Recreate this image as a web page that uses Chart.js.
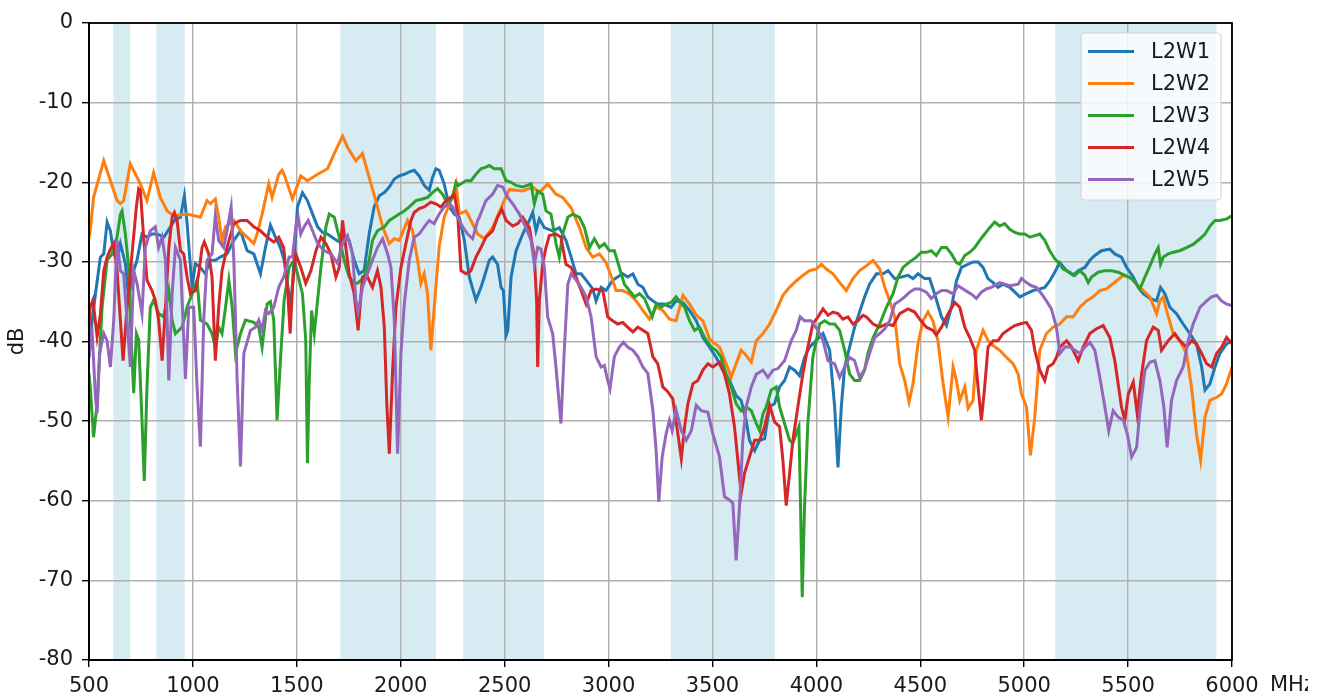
<!DOCTYPE html>
<html>
<head>
<meta charset="utf-8">
<script src="https://cdn.jsdelivr.net/npm/chart.js@4.4.1/dist/chart.umd.min.js"></script>
<style>
  html, body { margin: 0; padding: 0; background: #fff; }
  canvas { display: block; }
</style>
</head>
<body>
<canvas id="chart" width="1327" height="696"></canvas>
<script>
// frequency bands (MHz), shaded behind the curves
const bandStart = [617, 824, 1710, 2300, 3300, 5150];
const bandEnd   = [698, 960, 2170, 2690, 3800, 5925];

const seriesNames = ['L2W1', 'L2W2', 'L2W3', 'L2W4', 'L2W5'];
const seriesColors = ['#1f77b4', '#ff7f0e', '#2ca02c', '#d62728', '#9467bd'];

// [MHz, dB]
const l2w1 = [[500,-42],[506,-39.4],[531,-34.0],[555,-29.4],[571,-29.0],[587,-25.0],[603,-26.1],[619,-29.0],[635,-29.8],[651,-27.7],[675,-30.2],[691,-34.4],[715,-31.1],[731,-29.8],[755,-26.5],[779,-26.9],[803,-26.5],[827,-26.5],[860,-26.9],[892,-25.6],[916,-24.6],[940,-24.4],[959,-21.7],[972,-25.2],[996,-33.2],[1012,-30.2],[1036,-30.7],[1060,-31.5],[1084,-29.8],[1108,-29.8],[1132,-29.4],[1164,-29.0],[1197,-27.3],[1229,-26.1],[1261,-28.6],[1293,-29.0],[1325,-31.5],[1349,-28.2],[1373,-25.4],[1397,-26.9],[1421,-28.2],[1439,-29.8],[1471,-35.7],[1487,-29.8],[1503,-23.1],[1527,-21.3],[1551,-22.3],[1576,-24.0],[1600,-25.6],[1624,-26.3],[1648,-26.5],[1680,-27.1],[1704,-27.5],[1728,-26.9],[1752,-27.3],[1776,-29.8],[1800,-31.5],[1824,-31.1],[1848,-26.5],[1872,-23.1],[1897,-21.7],[1921,-21.3],[1945,-20.6],[1969,-19.6],[1993,-19.2],[2017,-19.0],[2041,-18.7],[2065,-18.5],[2089,-19.2],[2113,-20.4],[2137,-21.0],[2153,-19.4],[2169,-18.3],[2185,-18.5],[2209,-20.2],[2234,-23.1],[2258,-24.0],[2282,-24.4],[2306,-27.3],[2330,-31.9],[2362,-34.8],[2386,-33.2],[2402,-31.9],[2426,-29.8],[2442,-29.4],[2466,-30.3],[2483,-33.2],[2494,-33.6],[2507,-39.2],[2515,-38.6],[2531,-31.9],[2555,-28.6],[2587,-26.5],[2619,-24.8],[2635,-23.8],[2651,-26.1],[2667,-24.6],[2691,-25.7],[2731,-26.1],[2763,-25.7],[2795,-27.3],[2820,-29.4],[2844,-31.5],[2868,-31.5],[2892,-32.3],[2924,-33.4],[2940,-34.9],[2964,-33.2],[2988,-33.6],[3020,-32.3],[3044,-31.9],[3068,-31.5],[3092,-31.9],[3117,-31.5],[3141,-32.8],[3165,-33.2],[3189,-34.4],[3213,-34.9],[3237,-35.3],[3269,-35.3],[3301,-35.7],[3325,-34.9],[3358,-35.1],[3390,-36.1],[3422,-37.4],[3454,-39.5],[3486,-40.7],[3518,-42.0],[3550,-43.6],[3582,-44.9],[3614,-46.8],[3638,-47.4],[3662,-49.9],[3678,-52.4],[3703,-53.7],[3727,-52.4],[3751,-52.2],[3775,-48.2],[3799,-47.8],[3823,-45.7],[3847,-44.9],[3871,-43.2],[3895,-43.6],[3919,-44.3],[3943,-42.0],[3967,-40.7],[3999,-39.9],[4032,-39.0],[4064,-41.1],[4088,-48.2],[4104,-55.8],[4120,-48.2],[4136,-43.2],[4160,-40.7],[4184,-38.2],[4208,-36.3],[4232,-34.4],[4256,-32.8],[4289,-31.5],[4321,-31.5],[4345,-31.1],[4377,-32.1],[4409,-31.9],[4441,-31.7],[4465,-32.1],[4489,-31.5],[4521,-32.1],[4545,-32.1],[4569,-34.0],[4602,-36.9],[4626,-38.0],[4650,-35.7],[4674,-32.4],[4698,-30.7],[4730,-30.3],[4754,-30.0],[4778,-30.0],[4802,-30.7],[4826,-32.1],[4850,-32.6],[4874,-33.2],[4898,-32.8],[4931,-33.2],[4955,-33.8],[4979,-34.4],[5011,-34.0],[5043,-33.6],[5075,-33.4],[5099,-33.2],[5123,-32.4],[5147,-31.3],[5171,-30.1],[5204,-31.1],[5236,-31.7],[5260,-31.1],[5292,-30.7],[5316,-29.8],[5340,-29.2],[5372,-28.6],[5412,-28.4],[5436,-29.0],[5468,-29.4],[5493,-30.7],[5525,-31.9],[5549,-33.2],[5573,-34.0],[5605,-34.6],[5637,-34.9],[5656,-33.2],[5677,-34.0],[5701,-35.7],[5733,-36.5],[5765,-37.8],[5797,-39.0],[5829,-40.3],[5854,-43.2],[5870,-46.1],[5894,-45.3],[5918,-43.2],[5942,-41.5],[5974,-40.3],[6000,-39.9]];

const l2w2 = [[500,-27],[506,-26.1],[522,-21.9],[571,-17.3],[635,-22.3],[651,-22.7],[667,-22.3],[699,-17.7],[747,-20.2],[779,-22.3],[811,-18.8],[843,-21.9],[876,-23.6],[908,-24.2],[972,-24.0],[1036,-24.4],[1068,-22.3],[1084,-22.7],[1108,-22.1],[1124,-24.4],[1140,-27.3],[1157,-25.6],[1197,-24.8],[1229,-26.1],[1261,-26.9],[1293,-27.7],[1309,-26.5],[1333,-24.0],[1365,-20.2],[1381,-21.9],[1413,-19.0],[1429,-18.5],[1439,-19.0],[1479,-22.1],[1519,-19.2],[1551,-19.8],[1600,-19.0],[1648,-18.3],[1680,-16.4],[1720,-14.2],[1744,-15.6],[1784,-17.3],[1816,-16.4],[1848,-19.4],[1880,-22.3],[1913,-25.6],[1945,-27.7],[1969,-27.1],[1993,-27.3],[2033,-24.8],[2057,-26.1],[2081,-29.8],[2097,-32.7],[2113,-31.5],[2129,-34.0],[2145,-41.1],[2169,-33.2],[2185,-28.1],[2209,-24.4],[2242,-22.3],[2266,-20.2],[2282,-24.0],[2314,-23.6],[2338,-24.8],[2370,-26.5],[2402,-27.1],[2442,-25.7],[2491,-22.7],[2523,-20.9],[2587,-21.1],[2635,-20.6],[2667,-21.3],[2707,-20.2],[2747,-21.5],[2779,-21.9],[2820,-23.2],[2860,-25.7],[2892,-28.2],[2924,-29.4],[2956,-29.0],[2988,-30.1],[3020,-32.3],[3036,-33.6],[3068,-33.6],[3100,-34.0],[3133,-34.9],[3165,-36.1],[3197,-37.2],[3229,-35.7],[3261,-36.1],[3293,-37.2],[3325,-37.4],[3358,-34.2],[3390,-35.3],[3422,-36.7],[3454,-37.4],[3486,-39.7],[3534,-40.7],[3566,-42.8],[3590,-44.5],[3614,-42.8],[3638,-41.1],[3654,-41.5],[3687,-42.6],[3711,-39.9],[3743,-39.0],[3775,-37.8],[3807,-36.1],[3839,-34.2],[3871,-33.2],[3903,-32.4],[3935,-31.7],[3967,-31.1],[3999,-30.9],[4024,-30.3],[4048,-30.9],[4080,-31.5],[4112,-32.6],[4144,-33.6],[4176,-32.1],[4208,-31.1],[4240,-30.5],[4273,-29.8],[4305,-30.9],[4329,-33.2],[4353,-34.9],[4377,-36.9],[4401,-42.8],[4425,-44.9],[4446,-47.6],[4465,-45.3],[4489,-40.3],[4513,-37.4],[4537,-36.3],[4561,-37.4],[4585,-39.9],[4610,-45.3],[4634,-49.5],[4658,-43.2],[4674,-44.9],[4690,-47.4],[4714,-45.7],[4730,-48.4],[4754,-47.4],[4770,-41.1],[4802,-38.6],[4826,-39.9],[4850,-40.5],[4882,-41.1],[4915,-42.0],[4947,-42.8],[4971,-44.1],[4987,-46.6],[5011,-48.2],[5030,-54.3],[5051,-49.5],[5075,-41.1],[5107,-39.0],[5139,-38.2],[5171,-37.8],[5204,-36.9],[5236,-36.9],[5268,-35.7],[5300,-34.9],[5332,-34.4],[5364,-33.6],[5396,-33.4],[5444,-32.4],[5477,-31.7],[5509,-31.9],[5541,-32.8],[5573,-33.6],[5605,-34.4],[5637,-36.5],[5653,-34.9],[5669,-34.4],[5685,-36.1],[5717,-39.0],[5749,-39.9],[5781,-41.5],[5805,-45.7],[5829,-51.6],[5849,-54.9],[5870,-49.5],[5894,-47.4],[5926,-47.0],[5950,-46.6],[5974,-45.3],[6000,-43.2]];

const l2w3 = [[500,-44],[506,-45.7],[522,-52.0],[539,-47.8],[563,-35.7],[587,-29.8],[611,-29.0],[635,-26.9],[651,-24.0],[659,-23.6],[675,-26.5],[691,-30.7],[699,-37.3],[715,-46.5],[728,-39.0],[739,-39.8],[755,-49.9],[766,-57.5],[779,-45.7],[795,-35.7],[811,-34.8],[835,-36.5],[860,-36.9],[884,-33.6],[900,-37.3],[916,-39.0],[948,-38.2],[972,-35.7],[996,-34.0],[1020,-32.3],[1036,-37.3],[1068,-37.8],[1092,-39.0],[1108,-40.7],[1124,-38.2],[1140,-39.0],[1157,-35.7],[1173,-32.3],[1189,-35.7],[1205,-41.5],[1229,-39.0],[1253,-37.3],[1293,-37.6],[1317,-38.2],[1333,-40.7],[1357,-35.3],[1373,-35.0],[1389,-37.3],[1405,-49.9],[1421,-42.4],[1439,-34.8],[1463,-30.7],[1487,-29.8],[1511,-32.3],[1527,-34.0],[1543,-39.8],[1551,-55.3],[1559,-45.7],[1571,-36.1],[1584,-39.0],[1600,-34.8],[1616,-30.7],[1640,-25.6],[1656,-24.0],[1680,-24.4],[1704,-26.9],[1728,-29.8],[1752,-31.9],[1776,-32.7],[1792,-32.7],[1824,-31.9],[1848,-29.8],[1864,-27.3],[1888,-26.1],[1921,-25.6],[1945,-24.8],[1969,-24.4],[1993,-24.0],[2017,-23.6],[2041,-23.1],[2073,-22.3],[2105,-22.1],[2129,-21.9],[2153,-21.3],[2177,-20.8],[2201,-21.5],[2226,-22.7],[2250,-21.9],[2266,-20.0],[2277,-20.4],[2290,-20.2],[2314,-19.8],[2338,-19.8],[2362,-19.0],[2386,-18.3],[2410,-18.1],[2426,-17.9],[2450,-18.3],[2483,-18.3],[2507,-19.8],[2531,-20.0],[2555,-20.4],[2587,-20.6],[2627,-20.2],[2643,-22.7],[2659,-21.1],[2683,-21.5],[2699,-23.6],[2723,-24.0],[2747,-27.7],[2763,-29.4],[2779,-26.5],[2804,-24.4],[2828,-24.0],[2860,-24.4],[2884,-25.7],[2908,-28.2],[2932,-27.1],[2956,-28.2],[2980,-27.7],[3004,-28.6],[3028,-28.6],[3052,-30.7],[3076,-32.8],[3100,-33.6],[3125,-34.4],[3149,-34.0],[3173,-34.6],[3197,-36.1],[3210,-36.9],[3229,-35.3],[3253,-35.7],[3277,-35.3],[3301,-35.1],[3325,-34.4],[3366,-35.7],[3390,-37.4],[3414,-38.6],[3438,-38.2],[3462,-39.5],[3494,-40.7],[3518,-41.1],[3542,-42.0],[3566,-44.1],[3590,-45.7],[3614,-47.8],[3638,-48.7],[3662,-48.2],[3687,-48.7],[3711,-50.3],[3727,-51.2],[3743,-49.1],[3759,-48.2],[3783,-46.1],[3807,-45.7],[3823,-48.2],[3847,-50.3],[3871,-52.4],[3887,-52.8],[3903,-51.6],[3916,-50.7],[3924,-60.8],[3932,-72.1],[3943,-60.8],[3959,-50.3],[3983,-42.0],[4016,-37.8],[4040,-37.4],[4064,-37.8],[4088,-37.8],[4112,-38.6],[4136,-41.1],[4160,-44.1],[4184,-44.9],[4208,-44.9],[4232,-43.6],[4248,-41.5],[4273,-39.5],[4305,-37.8],[4337,-35.7],[4369,-34.0],[4393,-31.9],[4417,-30.7],[4449,-30.0],[4481,-29.4],[4505,-28.8],[4529,-28.8],[4553,-28.6],[4577,-29.2],[4602,-28.2],[4626,-28.2],[4650,-29.0],[4674,-30.1],[4690,-30.3],[4714,-29.2],[4738,-28.8],[4762,-28.2],[4786,-27.3],[4810,-26.5],[4834,-25.7],[4858,-25.0],[4882,-25.5],[4906,-25.2],[4931,-25.9],[4955,-26.3],[4979,-26.5],[5003,-26.5],[5027,-26.9],[5051,-26.7],[5075,-26.5],[5099,-27.3],[5123,-28.6],[5147,-29.6],[5171,-30.3],[5188,-30.9],[5220,-31.3],[5244,-31.7],[5268,-31.1],[5292,-31.7],[5308,-32.6],[5324,-31.9],[5356,-31.3],[5388,-31.1],[5420,-31.1],[5452,-31.3],[5484,-31.7],[5517,-32.1],[5541,-32.8],[5557,-33.4],[5581,-31.9],[5605,-30.5],[5629,-29.0],[5645,-28.2],[5656,-30.3],[5669,-29.4],[5693,-29.0],[5717,-28.8],[5749,-28.6],[5781,-28.2],[5813,-27.8],[5846,-27.1],[5870,-26.5],[5894,-25.5],[5918,-24.8],[5942,-24.8],[5974,-24.6],[6000,-24.2]];

const l2w4 = [[500,-38],[506,-35.7],[519,-34.8],[539,-39.4],[555,-36.5],[571,-31.1],[587,-29.4],[603,-28.4],[619,-27.7],[635,-31.1],[651,-37.3],[664,-42.4],[683,-35.7],[707,-29.0],[728,-23.1],[739,-20.8],[747,-21.0],[763,-26.9],[779,-32.3],[803,-33.6],[819,-34.8],[835,-37.3],[852,-42.4],[868,-35.7],[884,-28.2],[900,-24.4],[911,-23.8],[924,-24.8],[940,-28.6],[956,-29.0],[972,-31.9],[988,-34.0],[1012,-33.6],[1028,-31.5],[1044,-28.2],[1055,-27.5],[1076,-29.0],[1092,-31.9],[1108,-42.4],[1124,-35.7],[1140,-31.1],[1164,-28.2],[1197,-25.2],[1229,-24.8],[1261,-24.8],[1293,-25.6],[1325,-26.1],[1357,-26.9],[1389,-27.5],[1413,-26.9],[1437,-28.2],[1455,-33.2],[1468,-39.0],[1479,-33.2],[1495,-29.0],[1519,-30.7],[1543,-32.7],[1568,-31.1],[1592,-28.6],[1616,-26.9],[1640,-27.7],[1664,-29.0],[1688,-31.9],[1704,-30.7],[1720,-24.8],[1736,-28.2],[1752,-31.5],[1776,-34.0],[1795,-38.6],[1816,-31.9],[1840,-31.9],[1864,-33.2],[1888,-31.1],[1905,-33.2],[1921,-38.2],[1933,-47.8],[1945,-54.1],[1961,-43.6],[1977,-35.7],[2001,-30.7],[2025,-27.7],[2049,-24.8],[2065,-23.8],[2089,-23.3],[2113,-23.1],[2145,-22.5],[2169,-22.7],[2193,-23.1],[2218,-22.3],[2242,-21.9],[2258,-21.5],[2274,-24.0],[2290,-31.1],[2314,-31.5],[2338,-31.1],[2362,-29.4],[2386,-28.2],[2410,-26.9],[2442,-26.1],[2466,-24.4],[2487,-23.4],[2507,-24.8],[2539,-25.5],[2563,-25.2],[2587,-24.4],[2619,-25.7],[2643,-29.4],[2654,-34.9],[2659,-43.2],[2667,-34.9],[2683,-30.3],[2699,-28.2],[2715,-26.7],[2747,-26.5],[2771,-26.9],[2795,-30.3],[2820,-30.7],[2844,-31.9],[2868,-33.6],[2892,-35.3],[2916,-33.6],[2940,-33.4],[2972,-33.6],[2996,-36.9],[3020,-37.4],[3044,-37.8],[3068,-37.6],[3092,-38.2],[3117,-38.8],[3141,-38.2],[3165,-38.6],[3189,-39.0],[3213,-41.9],[3237,-42.8],[3261,-45.7],[3285,-46.3],[3309,-47.2],[3333,-51.5],[3350,-54.7],[3366,-50.7],[3382,-47.8],[3406,-45.3],[3430,-44.9],[3454,-43.6],[3478,-42.8],[3502,-43.2],[3534,-42.6],[3558,-44.1],[3582,-46.6],[3606,-50.7],[3622,-54.9],[3638,-59.1],[3654,-56.6],[3678,-54.5],[3703,-52.4],[3727,-52.4],[3751,-50.7],[3775,-48.0],[3799,-50.1],[3823,-50.7],[3839,-54.9],[3855,-60.6],[3871,-56.6],[3887,-52.4],[3911,-48.2],[3935,-44.1],[3959,-40.7],[3983,-37.8],[4008,-36.9],[4032,-35.9],[4056,-36.7],[4080,-36.3],[4104,-36.5],[4128,-37.2],[4152,-36.9],[4176,-37.8],[4200,-37.4],[4224,-36.7],[4240,-36.9],[4273,-37.8],[4305,-38.2],[4337,-37.8],[4369,-38.0],[4401,-36.5],[4441,-35.9],[4473,-36.3],[4497,-37.2],[4529,-38.2],[4561,-38.6],[4577,-39.2],[4602,-38.2],[4634,-36.5],[4666,-35.1],[4690,-35.7],[4714,-38.2],[4738,-39.5],[4762,-41.1],[4778,-45.7],[4794,-49.9],[4810,-45.7],[4826,-40.7],[4850,-39.9],[4874,-39.9],[4898,-39.0],[4931,-38.4],[4955,-38.0],[4979,-37.8],[5011,-37.6],[5035,-38.6],[5051,-41.1],[5075,-43.6],[5099,-44.9],[5115,-43.2],[5139,-42.8],[5155,-42.0],[5172,-40.7],[5204,-39.9],[5228,-40.7],[5260,-42.4],[5284,-40.7],[5316,-39.0],[5348,-38.4],[5380,-38.0],[5412,-39.5],[5436,-42.4],[5468,-48.2],[5484,-49.9],[5501,-46.6],[5525,-45.1],[5544,-49.1],[5565,-44.1],[5589,-39.9],[5621,-38.2],[5645,-38.6],[5661,-41.1],[5693,-39.9],[5725,-39.0],[5749,-39.9],[5781,-40.7],[5805,-39.9],[5829,-40.3],[5854,-41.5],[5878,-42.8],[5902,-43.2],[5926,-41.5],[5950,-40.7],[5974,-39.5],[6000,-40.3]];

const l2w5 = [[500,-42],[514,-38.2],[531,-47.0],[539,-49.0],[551,-41.5],[571,-39.0],[587,-39.9],[603,-43.2],[619,-37.3],[635,-27.3],[651,-31.1],[667,-31.5],[683,-37.3],[699,-43.2],[715,-31.1],[731,-32.7],[755,-36.5],[771,-28.2],[795,-26.1],[819,-25.6],[835,-28.2],[852,-26.9],[868,-29.8],[884,-44.9],[900,-34.0],[916,-28.2],[940,-29.8],[964,-44.7],[980,-35.7],[1004,-35.7],[1020,-45.7],[1036,-53.2],[1052,-37.3],[1068,-29.8],[1092,-29.0],[1108,-24.2],[1124,-27.3],[1148,-28.2],[1164,-26.1],[1184,-23.1],[1197,-29.8],[1213,-44.9],[1229,-55.7],[1245,-41.5],[1277,-38.6],[1301,-38.2],[1317,-37.3],[1333,-38.6],[1349,-36.1],[1365,-36.5],[1389,-35.7],[1413,-33.2],[1437,-31.9],[1463,-29.4],[1479,-29.4],[1495,-25.6],[1507,-24.4],[1519,-26.5],[1535,-25.6],[1555,-24.8],[1576,-26.1],[1600,-27.7],[1632,-28.6],[1664,-29.0],[1696,-30.2],[1720,-27.7],[1744,-26.7],[1768,-29.0],[1784,-34.8],[1795,-36.3],[1816,-33.2],[1840,-31.5],[1864,-29.8],[1888,-28.2],[1913,-27.1],[1937,-29.0],[1953,-30.7],[1969,-37.3],[1985,-54.1],[2001,-41.5],[2017,-35.3],[2041,-29.8],[2065,-26.9],[2089,-26.5],[2113,-25.6],[2137,-24.8],[2161,-25.2],[2185,-24.0],[2209,-23.1],[2234,-22.7],[2250,-23.1],[2274,-24.4],[2298,-25.6],[2322,-26.5],[2346,-27.1],[2370,-24.8],[2378,-24.4],[2410,-22.3],[2442,-21.5],[2466,-20.4],[2491,-20.6],[2515,-21.9],[2539,-22.7],[2571,-24.0],[2603,-25.7],[2627,-27.3],[2643,-30.3],[2659,-28.2],[2675,-28.4],[2691,-30.7],[2707,-36.9],[2731,-39.0],[2747,-43.2],[2771,-50.3],[2787,-41.1],[2804,-32.8],[2820,-31.5],[2844,-32.3],[2868,-33.2],[2892,-34.4],[2916,-36.9],[2940,-41.9],[2964,-43.2],[2980,-43.0],[2996,-44.9],[3007,-45.9],[3028,-41.9],[3052,-40.7],[3072,-40.1],[3092,-40.7],[3117,-41.1],[3141,-41.9],[3165,-43.2],[3189,-44.0],[3213,-48.6],[3229,-53.7],[3242,-60.1],[3258,-54.5],[3277,-51.6],[3293,-49.9],[3306,-51.2],[3325,-48.6],[3350,-51.2],[3374,-52.4],[3398,-51.2],[3422,-48.0],[3446,-48.7],[3478,-48.9],[3502,-51.6],[3534,-54.5],[3558,-59.5],[3582,-59.9],[3598,-60.3],[3614,-67.5],[3630,-60.8],[3646,-52.4],[3662,-48.2],[3687,-45.7],[3711,-44.1],[3743,-43.6],[3767,-44.5],[3791,-43.6],[3815,-43.4],[3847,-42.4],[3879,-39.9],[3903,-38.6],[3922,-36.9],[3943,-37.4],[3975,-37.4],[4008,-38.6],[4032,-39.9],[4056,-42.4],[4088,-42.8],[4112,-44.5],[4136,-43.2],[4160,-42.0],[4184,-42.4],[4208,-44.5],[4232,-43.5],[4256,-41.5],[4281,-39.5],[4305,-39.0],[4329,-38.4],[4353,-37.4],[4377,-35.3],[4401,-34.9],[4425,-34.4],[4449,-33.8],[4473,-33.4],[4497,-33.4],[4529,-33.8],[4553,-34.6],[4577,-34.0],[4602,-33.6],[4626,-33.6],[4658,-34.0],[4682,-33.0],[4706,-33.4],[4730,-33.8],[4754,-34.2],[4770,-34.6],[4794,-33.8],[4818,-33.4],[4842,-33.2],[4882,-32.6],[4906,-32.8],[4931,-33.0],[4971,-32.8],[4987,-32.1],[5011,-32.6],[5035,-33.0],[5059,-33.2],[5083,-34.0],[5107,-34.9],[5131,-35.9],[5155,-38.2],[5172,-41.5],[5196,-40.7],[5220,-40.7],[5244,-41.1],[5268,-41.5],[5292,-40.7],[5316,-40.1],[5340,-41.1],[5364,-44.5],[5388,-48.2],[5407,-51.2],[5428,-48.7],[5452,-49.5],[5477,-49.9],[5496,-51.6],[5517,-54.5],[5541,-53.3],[5557,-48.7],[5581,-43.6],[5605,-42.6],[5629,-42.4],[5653,-44.9],[5672,-48.2],[5688,-53.3],[5709,-47.4],[5733,-44.9],[5765,-43.2],[5789,-39.9],[5813,-37.8],[5846,-35.7],[5878,-34.9],[5902,-34.4],[5926,-34.2],[5950,-34.9],[5974,-35.3],[6000,-35.5]];

const seriesData = [l2w1, l2w2, l2w3, l2w4, l2w5];

const FONT = "'DejaVu Sans', 'Liberation Sans', sans-serif";
const TEXT = '#1a1a1a';
Chart.defaults.font.family = FONT;
Chart.defaults.font.size = 21;
Chart.defaults.color = TEXT;

// shaded bands under the grid
const bandsPlugin = {
    id: 'bands',
    beforeDraw(chart) {
        const { ctx, chartArea, scales } = chart;
        ctx.save();
        ctx.fillStyle = 'rgba(173, 216, 230, 0.5)';
        for (let i = 0; i < bandStart.length; i++) {
            const x0 = scales.x.getPixelForValue(bandStart[i]);
            const x1 = scales.x.getPixelForValue(bandEnd[i]);
            ctx.fillRect(x0, chartArea.top, x1 - x0, chartArea.bottom - chartArea.top);
        }
        ctx.restore();
    }
};

// box, legend and the "MHz" label
const framePlugin = {
    id: 'frame',
    afterDraw(chart) {
        const { ctx, chartArea } = chart;
        ctx.save();
        ctx.strokeStyle = '#000';
        ctx.lineWidth = 1.8;
        ctx.strokeRect(chartArea.left, chartArea.top,
            chartArea.right - chartArea.left, chartArea.bottom - chartArea.top);

        // legend
        const lx = 1081, ly = 33, lw = 140, lh = 167;
        ctx.beginPath();
        ctx.roundRect(lx, ly, lw, lh, 4);
        ctx.fillStyle = 'rgba(255,255,255,0.8)';
        ctx.fill();
        ctx.strokeStyle = '#d6d6d6';
        ctx.lineWidth = 1.2;
        ctx.stroke();
        ctx.font = '21px ' + FONT;
        ctx.textBaseline = 'middle';
        ctx.textAlign = 'left';
        seriesNames.forEach((name, i) => {
            const y = 51.5 + i * 32;
            ctx.strokeStyle = seriesColors[i];
            ctx.lineWidth = 3;
            ctx.beginPath();
            ctx.moveTo(1088, y);
            ctx.lineTo(1134, y);
            ctx.stroke();
            ctx.fillStyle = TEXT;
            ctx.fillText(name, 1151, y + 1);
        });

        // x axis unit, cut at the right like the original
        ctx.beginPath();
        ctx.rect(0, 0, 1308, chart.height);
        ctx.clip();
        ctx.fillStyle = TEXT;
        ctx.textBaseline = 'top';
        ctx.fillText('MHz', 1270, chartArea.bottom + 15);
        ctx.restore();
    }
};

new Chart(document.getElementById('chart'), {
    type: 'line',
    data: {
        datasets: seriesData.map((d, i) => ({
            label: seriesNames[i],
            data: d.map(p => ({ x: p[0], y: p[1] })),
            borderColor: seriesColors[i],
            backgroundColor: seriesColors[i],
            borderWidth: 3,
            pointRadius: 0,
            tension: 0,
            fill: false,
            order: seriesData.length - i
        }))
    },
    options: {
        responsive: false,
        animation: false,
        layout: { padding: { top: 23, right: 95, left: 0, bottom: 0 } },
        plugins: {
            legend: { display: false },
            tooltip: { enabled: false }
        },
        scales: {
            x: {
                type: 'linear',
                min: 500,
                max: 6000,
                afterFit: s => { s.height = 36; },
                ticks: {
                    stepSize: 500, maxRotation: 0, autoSkip: false, padding: 7,
                    callback: v => String(v)
                },
                grid: { color: '#b0b0b0', lineWidth: 1.4, tickColor: '#000', tickLength: 7 },
                border: { display: true, color: '#000', width: 1.8 }
            },
            y: {
                min: -80,
                max: 0,
                afterFit: s => { s.width = 89; },
                ticks: { stepSize: 10, padding: 9, callback: v => String(v) },
                grid: { color: '#b0b0b0', lineWidth: 1.4, tickColor: '#000', tickLength: 7 },
                border: { display: true, color: '#000', width: 1.8 },
                title: { display: true, text: 'dB', padding: { top: 5, bottom: 0 } }
            }
        }
    },
    plugins: [bandsPlugin, framePlugin]
});
</script>
</body>
</html>
